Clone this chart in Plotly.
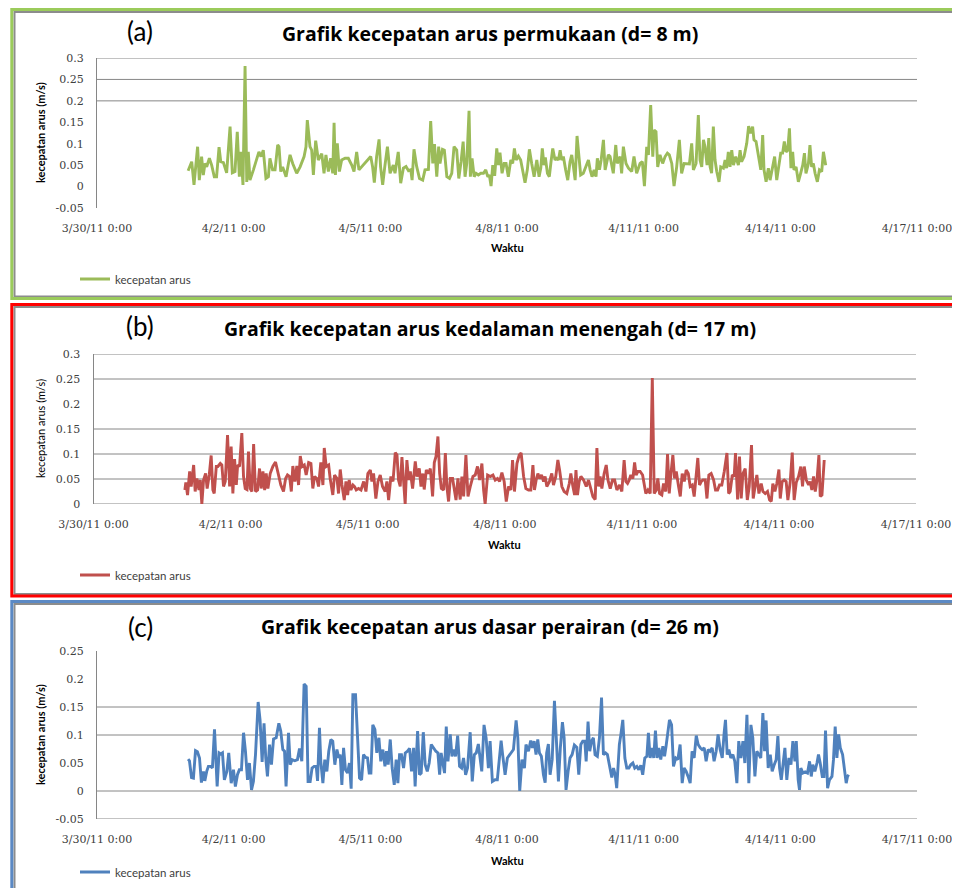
import pandas as pd
import plotly.graph_objects as go

# ---------------- data ----------------
START = "2011-04-01 00:00"

# panel (a) surface current, hours after START and speed (m/s)
hours_a = [
    0.0, 1.9, 3.1, 5.0, 5.9, 7.1, 8.0, 8.9, 9.8, 11.2,
    12.4, 13.8, 15.0, 16.3, 17.2, 18.6, 20.3, 22.1, 23.3, 24.7,
    25.9, 27.0, 27.9, 28.9, 30.0, 30.9, 31.7, 32.6, 34.4, 36.1,
    37.3, 38.4, 39.6, 41.0, 42.3, 43.1, 44.5, 45.8, 47.2, 47.9,
    48.8, 49.8, 51.6, 53.7, 55.1, 57.2, 59.0, 61.1, 62.1, 62.8,
    64.2, 65.1, 66.0, 67.2, 68.6, 70.4, 71.6, 72.6, 73.9, 75.1,
    76.2, 76.9, 77.6, 78.6, 79.7, 80.9, 82.7, 84.4, 86.2, 87.4,
    88.8, 90.0, 91.4, 93.2, 94.9, 96.2, 97.2, 98.1, 99.3, 100.6,
    101.4, 102.5, 103.6, 105.0, 106.4, 108.1, 109.0, 110.7,
    112.0, 113.4, 114.8, 116.1, 117.3, 118.0, 119.0, 120.4, 121.9, 123.6,
    124.8, 126.6, 127.8, 128.9, 129.8, 131.0, 132.0, 132.7, 134.0, 135.0,
    136.3, 137.7, 138.9, 140.1, 141.5, 142.6, 143.8, 144.9, 145.9, 146.8,
    148.0, 148.7, 149.6, 150.7, 151.7, 152.9, 154.2, 155.6, 156.8, 157.9,
    158.7, 159.6, 160.5, 161.5, 162.6, 163.5, 164.3, 165.4, 166.5, 167.5,
    168.7, 170.0, 171.0, 171.9, 172.8, 174.0, 175.2, 176.3, 177.5, 178.7,
    179.8, 181.0, 182.3, 183.7, 184.9, 185.8, 186.6, 187.5, 188.2, 189.3,
    190.3, 191.2, 192.1, 193.3, 194.2, 195.1, 196.0, 196.8, 197.7, 198.9,
    200.0, 201.2, 202.1, 203.0, 203.9, 204.9, 205.8, 206.8, 208.2, 210.0,
    210.9, 211.8, 212.8, 213.9, 214.9, 215.6, 216.7, 217.6, 218.8, 219.7,
    220.5, 221.4,
    222.3, 224.0, 225.3, 226.1, 227.6, 228.4, 229.3, 230.7, 232.0, 233.7,
    234.9, 236.3, 238.1, 239.3, 240.4, 241.6, 242.5, 243.7, 244.8, 245.5,
    246.5, 247.4, 248.6, 250.0, 251.3, 252.5, 253.5, 254.8, 256.0, 257.4,
    258.8, 260.0, 261.3, 262.7, 264.1, 265.3, 266.2, 267.6, 268.8, 269.7,
    270.6, 271.5, 272.3, 273.4, 274.3, 275.0, 275.8, 276.7, 277.6, 278.5,
    279.7, 280.6, 282.0, 282.9, 283.7, 284.6, 285.5, 286.4, 287.3, 288.5,
    289.9, 290.8, 291.6, 292.9, 294.3, 295.3, 296.4, 297.4, 298.1, 299.2,
    300.4, 301.7, 302.7, 303.4, 304.5, 305.7, 306.6, 308.0, 309.0, 310.1,
    311.0, 312.2, 313.2, 314.1, 315.0, 315.9, 316.8, 317.6, 318.5, 319.2,
    320.3, 321.5, 322.7, 323.8, 324.7, 325.5, 326.8, 327.6, 328.5, 329.4,
    330.3, 331.5, 332.6, 333.8, 334.7, 335.9,
]
speed_a = [
    0.037, 0.058, 0.004, 0.093, 0.015, 0.070, 0.027, 0.054, 0.046, 0.066,
    0.050, 0.023, 0.023, 0.092, 0.058, 0.056, 0.032, 0.140, 0.032, 0.035,
    0.128, 0.023, 0.081, 0.004, 0.281, 0.011, 0.081, 0.015, 0.039, 0.062,
    0.081, 0.070, 0.085, 0.019, 0.023, 0.066, 0.039, 0.039, 0.097, 0.093,
    0.035, 0.046, 0.023, 0.074, 0.054, 0.031, 0.046, 0.070, 0.093, 0.155,
    0.093, 0.085, 0.027, 0.107, 0.062, 0.077, 0.031, 0.074, 0.035, 0.066,
    0.031, 0.149, 0.027, 0.101, 0.035, 0.062, 0.066, 0.066, 0.050, 0.035,
    0.081, 0.039, 0.046, 0.054, 0.062, 0.070, 0.046, 0.009, 0.070, 0.110,
    0.046, 0.004, 0.046, 0.093, 0.031, 0.050, 0.031, 0.081,
    0.008, 0.043, 0.047, 0.037, 0.039, 0.015, 0.087, 0.047, 0.019, 0.015,
    0.039, 0.040, 0.153, 0.054, 0.099, 0.023, 0.093, 0.054, 0.087, 0.085,
    0.023, 0.019, 0.031, 0.093, 0.085, 0.019, 0.058, 0.105, 0.023, 0.054,
    0.177, 0.023, 0.066, 0.023, 0.031, 0.027, 0.031, 0.031, 0.039, 0.023,
    0.027, 0.001, 0.050, 0.025, 0.089, 0.050, 0.079, 0.031, 0.054, 0.054,
    0.023, 0.062, 0.054, 0.089, 0.062, 0.071, 0.062, 0.039, 0.009, 0.039,
    0.087, 0.054, 0.023, 0.062, 0.023, 0.043, 0.089, 0.050, 0.068, 0.031,
    0.023, 0.058, 0.089, 0.062, 0.066, 0.062, 0.085, 0.062, 0.070, 0.039,
    0.015, 0.058, 0.074, 0.046, 0.015, 0.118, 0.078, 0.027, 0.031, 0.054,
    0.062, 0.039, 0.023, 0.039, 0.023, 0.066, 0.039, 0.062, 0.109, 0.039,
    0.054, 0.074,
    0.070, 0.031, 0.097, 0.054, 0.070, 0.031, 0.093, 0.054, 0.043, 0.035,
    0.070, 0.031, 0.054, 0.058, 0.001, 0.093, 0.074, 0.190, 0.070, 0.132,
    0.128, 0.046, 0.074, 0.054, 0.070, 0.078, 0.074, 0.054, 0.001, 0.046,
    0.109, 0.031, 0.054, 0.054, 0.053, 0.101, 0.039, 0.054, 0.167, 0.062,
    0.046, 0.109, 0.093, 0.050, 0.113, 0.046, 0.031, 0.140, 0.062, 0.035,
    0.011, 0.046, 0.043, 0.062, 0.043, 0.081, 0.046, 0.085, 0.050, 0.070,
    0.050, 0.085, 0.058, 0.070, 0.101, 0.141, 0.124, 0.140, 0.109, 0.105,
    0.070, 0.039, 0.120, 0.039, 0.011, 0.043, 0.015, 0.046, 0.070, 0.015,
    0.039, 0.078, 0.078, 0.105, 0.081, 0.085, 0.136, 0.043, 0.081, 0.039,
    0.046, 0.011, 0.031, 0.050, 0.078, 0.031, 0.054, 0.097, 0.046, 0.054,
    0.031, 0.011, 0.039, 0.035, 0.081, 0.050,
]

# panel (b) mid-depth current
hours_b = [
    0.0, 0.5, 1.4, 2.5, 3.3, 4.6, 5.4, 6.3, 7.4, 8.1,
    8.9, 9.8, 10.9, 11.7, 12.8, 13.8, 14.7, 15.4, 16.5, 17.3,
    18.6, 19.4, 20.3, 21.2, 22.4, 23.5, 24.3, 25.2, 26.1, 27.0,
    27.7, 28.7, 29.9, 30.8, 31.7, 32.6, 33.4, 34.3, 35.2, 36.1,
    37.1, 38.2, 39.2, 40.1, 41.0, 41.9, 42.7, 43.6, 44.8, 46.2,
    47.6, 49.2, 50.4, 51.8, 52.9, 53.9, 55.0, 55.9, 56.7, 57.8,
    58.8, 59.7, 60.6, 61.6, 62.7, 63.7, 65.0, 66.2, 67.2, 68.1,
    69.3, 70.2, 71.4, 72.5, 73.2, 74.2, 75.5, 76.3, 77.7, 78.6,
    79.9, 80.7, 81.6, 82.5, 83.7, 84.6, 85.5, 86.3, 87.2, 88.3,
    89.1, 90.0, 91.2, 92.5, 93.9, 95.1, 96.1, 97.4, 98.2, 99.1,
    100.3, 101.4, 102.6, 103.8, 105.2, 106.1, 107.0, 108.2, 109.3, 110.5,
    111.4, 112.2, 113.1, 114.0, 114.9, 115.7, 116.6, 117.5, 118.4, 119.6,
    121.0, 121.9, 123.1, 124.0, 125.0, 125.7, 126.8, 128.0, 128.9, 130.1,
    131.0, 131.9, 132.9, 133.8, 134.7, 135.9, 136.8, 137.6, 138.5, 139.4,
    140.6, 141.5, 142.4, 143.4, 144.6, 145.5, 146.4, 147.6, 148.7, 149.9,
    151.3, 152.5, 153.7, 154.8,
    156.0, 156.9, 157.7, 159.0, 160.4, 161.8, 163.0, 164.2, 165.3, 166.5,
    167.7, 168.8, 170.0, 171.2, 172.1, 173.1, 174.4, 175.6, 176.6, 177.9,
    179.1, 180.5, 181.7, 182.8, 183.6, 184.5, 185.4, 186.3, 187.3, 188.4,
    189.2, 190.1, 191.5, 192.7, 193.6, 194.8, 195.9, 196.8, 198.0, 199.2,
    200.6, 201.9, 202.7, 203.8, 204.7, 205.4, 206.2, 207.1, 208.0, 209.4,
    210.8, 212.0, 213.2, 214.3, 215.5, 216.4, 217.3, 218.1, 219.0, 220.2,
    221.3, 222.2, 223.4, 224.6, 225.7, 226.9, 228.3, 229.5, 230.7, 231.6,
    232.5, 233.4, 234.2, 235.3, 236.2, 237.0, 237.9, 239.1, 240.4, 241.2,
    242.1, 243.2, 244.4, 245.5, 246.5, 247.6, 248.4, 249.3, 250.5, 251.4,
    252.6, 253.5, 254.4, 255.3, 256.3, 257.2, 258.1, 259.3, 260.2, 261.2,
    262.3, 263.3, 264.4, 265.4, 266.5, 267.5, 268.6, 269.4, 270.3, 271.2,
    272.1, 273.3, 274.2, 275.2, 276.4, 277.7, 278.7, 279.8, 280.8, 282.0,
    283.3, 284.7, 285.6, 286.4, 287.5, 288.5, 289.2, 290.3, 291.3, 292.2,
    293.1, 294.3, 295.4, 296.4, 297.6, 298.5, 299.6, 300.4, 301.5, 302.7,
    303.6, 304.8, 306.0, 307.1, 308.0, 308.8, 309.9, 310.9, 312.0, 312.7,
    313.7, 314.8, 315.8, 316.7, 317.9, 319.0, 320.0, 321.1, 322.3, 323.5,
    324.4, 325.3, 326.4, 327.6, 328.4, 329.3, 330.2, 331.1, 332.0, 333.0,
    333.7, 334.6, 335.8,
]
speed_b = [
    0.028, 0.043, 0.018, 0.065, 0.035, 0.078, 0.025, 0.051, 0.028, 0.048,
    0.000, 0.048, 0.061, 0.031, 0.058, 0.097, 0.028, 0.021, 0.075, 0.075,
    0.081, 0.078, 0.035, 0.045, 0.138, 0.035, 0.115, 0.021, 0.090, 0.038,
    0.078, 0.075, 0.142, 0.055, 0.031, 0.029, 0.105, 0.031, 0.025, 0.120,
    0.025, 0.028, 0.071, 0.031, 0.065, 0.028, 0.061, 0.031, 0.061, 0.075,
    0.084, 0.055, 0.038, 0.025, 0.051, 0.058, 0.055, 0.025, 0.076, 0.045,
    0.076, 0.038, 0.096, 0.075, 0.078, 0.058, 0.083, 0.081, 0.031, 0.055,
    0.051, 0.035, 0.083, 0.038, 0.112, 0.075, 0.078, 0.051, 0.018, 0.058,
    0.051, 0.021, 0.069, 0.038, 0.008, 0.045, 0.018, 0.048, 0.028, 0.038,
    0.035, 0.028, 0.031, 0.028, 0.045, 0.025, 0.061, 0.068, 0.045, 0.061,
    0.011, 0.045, 0.058, 0.035, 0.025, 0.045, 0.008, 0.055, 0.045, 0.103,
    0.098, 0.048, 0.035, 0.094, 0.035, 0.000, 0.088, 0.048, 0.065, 0.031,
    0.085, 0.055, 0.071, 0.035, 0.061, 0.029, 0.068, 0.061, 0.071, 0.015,
    0.083, 0.095, 0.135, 0.061, 0.031, 0.028, 0.102, 0.035, 0.005, 0.051,
    0.051, 0.028, 0.008, 0.051, 0.009, 0.055, 0.015, 0.098, 0.015, 0.035,
    0.055, 0.058, 0.075, 0.048,
    0.081, 0.028, 0.000, 0.058, 0.055, 0.058, 0.048, 0.051, 0.045, 0.063,
    0.045, 0.005, 0.035, 0.028, 0.088, 0.025, 0.081, 0.098, 0.102, 0.055,
    0.031, 0.028, 0.028, 0.078, 0.028, 0.048, 0.061, 0.051, 0.058, 0.045,
    0.055, 0.035, 0.045, 0.061, 0.038, 0.055, 0.088, 0.068, 0.035, 0.025,
    0.021, 0.041, 0.061, 0.035, 0.018, 0.068, 0.018, 0.045, 0.055, 0.048,
    0.035, 0.048, 0.031, 0.015, 0.009, 0.112, 0.035, 0.055, 0.031, 0.061,
    0.078, 0.048, 0.031, 0.048, 0.048, 0.028, 0.038, 0.025, 0.088, 0.045,
    0.041, 0.048, 0.058, 0.051, 0.083, 0.058, 0.065, 0.065, 0.058, 0.038,
    0.021, 0.028, 0.021, 0.252, 0.021, 0.028, 0.051, 0.021, 0.018, 0.041,
    0.025, 0.100, 0.021, 0.061, 0.098, 0.051, 0.065, 0.035, 0.015, 0.061,
    0.045, 0.068, 0.061, 0.035, 0.038, 0.015, 0.061, 0.092, 0.038, 0.045,
    0.048, 0.048, 0.011, 0.058, 0.061, 0.048, 0.028, 0.028, 0.038, 0.038,
    0.065, 0.102, 0.021, 0.025, 0.058, 0.055, 0.102, 0.009, 0.095, 0.011,
    0.061, 0.071, 0.008, 0.035, 0.118, 0.011, 0.038, 0.058, 0.021, 0.041,
    0.025, 0.021, 0.025, 0.008, 0.005, 0.041, 0.025, 0.041, 0.069, 0.011,
    0.045, 0.048, 0.045, 0.008, 0.043, 0.103, 0.008, 0.043, 0.055, 0.075,
    0.035, 0.075, 0.048, 0.038, 0.045, 0.028, 0.055, 0.025, 0.048, 0.098,
    0.015, 0.018, 0.088,
]

# panel (c) near-bottom current
hours_c = [
    0.0, 0.7, 1.8, 2.8, 3.9, 4.9, 6.0, 7.0, 8.1, 8.8,
    9.8, 10.7, 11.9, 12.8, 13.9, 15.3, 16.3, 17.2, 18.1, 19.1,
    20.4, 21.4, 22.7, 23.9, 24.9, 26.0, 27.0, 28.1, 29.2, 30.2,
    31.3, 32.3, 33.4, 34.4, 35.5, 36.9, 37.9, 39.0, 40.0, 40.9,
    41.8, 42.9, 43.9, 45.0, 46.4, 47.8, 48.8, 49.9, 50.8, 51.6,
    52.9, 53.8, 54.8, 56.2, 57.6, 58.7, 59.9, 61.1, 62.2, 63.2,
    64.3, 65.3, 66.4, 67.5, 68.2, 69.2, 69.9, 71.0, 72.0, 73.1,
    74.1, 75.2, 76.2, 77.3, 78.4, 79.4, 80.1, 81.0, 81.9, 82.9,
    84.0, 85.0, 85.9, 86.8, 88.2, 89.3, 90.3, 91.4, 92.4, 93.5,
    94.5, 95.4, 96.3, 97.3, 98.4, 99.4, 100.5, 101.5, 102.6, 103.7,
    104.5, 105.4, 106.5, 107.5, 108.6, 109.6, 110.5, 111.4, 112.4, 113.5,
    114.4, 115.6, 116.7, 117.7, 118.8, 119.6, 120.9, 121.9, 122.8, 123.9,
    124.9, 126.0, 127.0, 128.1, 129.3, 130.5, 131.6, 132.5, 133.3, 134.2,
    135.1, 136.0, 136.9, 138.1, 139.0, 139.9, 140.9, 142.0, 143.0, 144.1,
    145.1, 146.2, 147.2, 148.6, 149.7, 150.8, 151.8, 152.9,
    154.7, 155.9, 157.0, 158.2, 159.1, 160.3, 161.7, 162.9, 164.0, 164.9,
    165.7, 167.0, 168.2, 169.6, 171.4, 172.8, 173.7, 174.7, 175.9, 177.2,
    178.0, 179.3, 180.5, 181.4, 182.3, 183.3, 184.2, 185.1, 186.1, 187.2,
    188.1, 188.9, 189.8, 190.7, 191.8, 193.0, 194.0, 195.1, 196.1, 197.2,
    198.1, 199.1, 200.2, 201.2, 202.3, 203.5, 204.8, 205.8, 206.9, 207.9,
    209.0, 209.7, 210.7, 211.6, 212.5, 213.5, 214.4, 215.6, 216.7, 217.8,
    218.8, 219.9, 220.9, 222.3, 223.2, 224.1, 225.0, 225.8, 227.2, 228.0,
    229.0, 230.1, 231.1, 232.2, 233.2, 234.3, 235.3, 236.4, 237.4, 238.5,
    239.5, 240.6, 241.7, 242.5, 243.4, 244.5, 245.3, 246.2, 247.1, 248.0,
    249.0, 250.1, 251.0, 251.8, 252.7, 253.6, 254.7, 255.7, 256.9, 258.0,
    259.2, 260.3, 261.3, 262.4, 263.4, 264.5, 265.5, 266.6, 267.7, 268.7,
    269.8, 270.8, 271.9, 272.9, 274.0, 275.0, 276.1, 277.1, 278.2, 279.2,
    280.3, 281.4, 282.4, 283.1, 284.0, 284.9, 285.9, 287.0, 288.0, 289.1,
    290.1, 291.2, 292.3, 293.3, 294.4, 295.4, 296.5, 297.5, 298.6, 299.6,
    300.7, 301.7, 302.8, 303.7, 304.5, 305.6, 306.7, 307.7, 308.8, 309.8,
    310.7, 311.6, 312.5, 313.3, 314.4, 315.4, 316.5, 317.6, 318.6, 319.7,
    320.4, 321.4, 322.1, 322.8, 323.9, 325.1, 326.3, 327.4, 328.3, 329.1,
    330.2, 331.3, 332.1, 333.0, 334.1, 335.0, 335.8, 336.9, 337.9, 339.2,
    340.0, 340.9, 341.8, 342.7, 343.6, 344.8, 345.7, 346.7, 347.4, 348.0,
]
speed_c = [
    0.057, 0.054, 0.024, 0.023, 0.072, 0.070, 0.059, 0.015, 0.035, 0.018,
    0.035, 0.044, 0.044, 0.041, 0.110, 0.008, 0.068, 0.066, 0.068, 0.020,
    0.035, 0.068, 0.014, 0.038, 0.008, 0.029, 0.038, 0.038, 0.104, 0.071,
    0.020, 0.050, 0.002, 0.017, 0.065, 0.159, 0.127, 0.052, 0.121, 0.059,
    0.026, 0.083, 0.047, 0.093, 0.095, 0.121, 0.107, 0.074, 0.071, 0.008,
    0.104, 0.047, 0.056, 0.054, 0.056, 0.076, 0.053, 0.191, 0.187, 0.017,
    0.017, 0.041, 0.044, 0.044, 0.018, 0.113, 0.053, 0.014, 0.056, 0.035,
    0.071, 0.092, 0.089, 0.047, 0.074, 0.059, 0.065, 0.011, 0.077, 0.038,
    0.032, 0.050, 0.004, 0.172, 0.172, 0.101, 0.023, 0.020, 0.065, 0.060,
    0.059, 0.032, 0.032, 0.118, 0.110, 0.068, 0.095, 0.053, 0.074, 0.044,
    0.071, 0.047, 0.092, 0.041, 0.011, 0.056, 0.014, 0.065, 0.065, 0.041,
    0.068, 0.071, 0.076, 0.035, 0.077, 0.008, 0.107, 0.029, 0.032, 0.105,
    0.047, 0.035, 0.050, 0.083, 0.077, 0.071, 0.068, 0.029, 0.068, 0.050,
    0.032, 0.115, 0.053, 0.101, 0.062, 0.074, 0.062, 0.099, 0.044, 0.041,
    0.059, 0.029, 0.041, 0.105, 0.017, 0.065, 0.068, 0.084,
    0.035, 0.118, 0.095, 0.041, 0.089, 0.017, 0.020, 0.020, 0.053, 0.090,
    0.065, 0.029, 0.059, 0.065, 0.074, 0.126, 0.095, 0.000, 0.056, 0.041,
    0.083, 0.071, 0.090, 0.077, 0.089, 0.065, 0.092, 0.068, 0.062, 0.029,
    0.015, 0.068, 0.084, 0.029, 0.056, 0.161, 0.083, 0.017, 0.077, 0.123,
    0.095, 0.002, 0.035, 0.059, 0.065, 0.082, 0.078, 0.029, 0.083, 0.089,
    0.089, 0.053, 0.124, 0.071, 0.089, 0.095, 0.065, 0.062, 0.095, 0.167,
    0.065, 0.068, 0.065, 0.041, 0.024, 0.041, 0.029, 0.005, 0.083, 0.101,
    0.127, 0.059, 0.041, 0.041, 0.047, 0.050, 0.041, 0.044, 0.038, 0.046,
    0.029, 0.059, 0.062, 0.104, 0.059, 0.077, 0.059, 0.108, 0.059, 0.077,
    0.056, 0.080, 0.062, 0.080, 0.110, 0.127, 0.118, 0.044, 0.059, 0.056,
    0.083, 0.014, 0.041, 0.035, 0.026, 0.014, 0.071, 0.059, 0.099, 0.083,
    0.077, 0.074, 0.077, 0.053, 0.074, 0.071, 0.077, 0.053, 0.071, 0.101,
    0.074, 0.059, 0.104, 0.127, 0.065, 0.074, 0.059, 0.065, 0.053, 0.014,
    0.089, 0.059, 0.089, 0.050, 0.136, 0.014, 0.118, 0.095, 0.026, 0.071,
    0.065, 0.059, 0.139, 0.071, 0.126, 0.041, 0.065, 0.035, 0.047, 0.056,
    0.098, 0.041, 0.020, 0.047, 0.077, 0.020, 0.059, 0.047, 0.089, 0.053,
    0.089, 0.020, 0.002, 0.041, 0.032, 0.034, 0.032, 0.053, 0.026, 0.047,
    0.035, 0.050, 0.065, 0.050, 0.026, 0.026, 0.108, 0.005, 0.020, 0.026,
    0.056, 0.115, 0.059, 0.101, 0.077, 0.065, 0.038, 0.014, 0.026, 0.029,
]

# axes / labels
x_tick_dates = ["2011-03-30", "2011-04-02", "2011-04-05", "2011-04-08",
                "2011-04-11", "2011-04-14", "2011-04-17"]
x_tick_text = ["3/30/11 0:00", "4/2/11 0:00", "4/5/11 0:00", "4/8/11 0:00",
               "4/11/11 0:00", "4/14/11 0:00", "4/17/11 0:00"]
y_ticks_a = [-0.05, 0, 0.05, 0.1, 0.15, 0.2, 0.25, 0.3]
y_text_a = ["-0.05", "0", "0.05", "0.1", "0.15", "0.2", "0.25", "0.3"]
grid_a = [0.2, 0.25, 0.3]
y_ticks_b = [0, 0.05, 0.1, 0.15, 0.2, 0.25, 0.3]
y_text_b = ["0", "0.05", "0.1", "0.15", "0.2", "0.25", "0.3"]
grid_b = [0, 0.05, 0.1, 0.15, 0.25, 0.3]
y_ticks_c = [-0.05, 0, 0.05, 0.1, 0.15, 0.2, 0.25]
y_text_c = ["-0.05", "0", "0.05", "0.1", "0.15", "0.2", "0.25"]
grid_c = [-0.05, 0, 0.1, 0.15]

titles = ["Grafik kecepatan arus permukaan (d= 8 m)",
          "Grafik kecepatan arus kedalaman menengah (d= 17 m)",
          "Grafik kecepatan arus dasar perairan (d= 26 m)"]
panel_labels = ["(a)", "(b)", "(c)"]
series_name = "kecepatan arus"
x_title = "Waktu"
y_title = "kecepatan arus (m/s)"

# ---------------- figure ----------------
assert len(hours_a) == len(speed_a), (len(hours_a), len(speed_a))
assert len(hours_b) == len(speed_b), (len(hours_b), len(speed_b))
assert len(hours_c) == len(speed_c), (len(hours_c), len(speed_c))

# the page body adds an 8px margin; size the figure to fill the rest
OFF = 8
W, H = 960 - OFF, 888 - OFF


def px(x):
    return (x - OFF) / W


def py(y):
    return 1 - (y - OFF) / H


t0 = pd.Timestamp(START)


def times(h):
    return [t0 + pd.Timedelta(hours=v) for v in h]


LINE_COLORS = ["#9BBB59", "#C0504D", "#4F81BD"]
GRID = "#868686"
TICKFONT = dict(family="DejaVu Serif", size=11, color="#404040")

fig = go.Figure()
series = [(hours_a, speed_a), (hours_b, speed_b), (hours_c, speed_c)]
for i, (h, v) in enumerate(series):
    sfx = "" if i == 0 else str(i + 1)
    fig.add_trace(go.Scatter(
        x=times(h), y=v, mode="lines", name=series_name,
        line=dict(color=LINE_COLORS[i], width=2.9),
        xaxis="x" + sfx, yaxis="y" + sfx,
        legend="legend" + sfx,
    ))

# panel geometry in reference pixels
panels = [
    dict(x0=97, x1=917, top=58, bot=208, yr=[-0.05, 0.3],
         tv=y_ticks_a, tt=y_text_a, grid=grid_a),
    dict(x0=93.5, x1=916, top=354, bot=504, yr=[0, 0.3],
         tv=y_ticks_b, tt=y_text_b, grid=grid_b),
    dict(x0=97, x1=917, top=651, bot=819, yr=[-0.05, 0.25],
         tv=y_ticks_c, tt=y_text_c, grid=grid_c),
]

layout = dict(
    width=W, height=H, autosize=False,
    margin=dict(l=0, r=0, t=0, b=0, pad=0, autoexpand=False),
    paper_bgcolor="white", plot_bgcolor="white",
    showlegend=True,
)
shapes = []
for i, p in enumerate(panels):
    sfx = "" if i == 0 else str(i + 1)
    layout["xaxis" + sfx] = dict(
        type="date", range=["2011-03-30", "2011-04-17"],
        domain=[px(p["x0"]), px(p["x1"])], anchor="y" + sfx,
        tickvals=x_tick_dates, ticktext=x_tick_text,
        showgrid=False, zeroline=False, showline=False,
        ticks="outside", ticklen=10, tickcolor="rgba(0,0,0,0)",
        tickfont=TICKFONT, fixedrange=True, automargin=False,
    )
    layout["yaxis" + sfx] = dict(
        range=p["yr"], domain=[py(p["bot"]), py(p["top"])],
        anchor="x" + sfx, tickvals=p["tv"], ticktext=p["tt"],
        showgrid=False, zeroline=False, showline=True,
        linecolor=GRID, linewidth=1,
        ticks="outside", ticklen=10, tickcolor="rgba(0,0,0,0)",
        tickfont=TICKFONT, fixedrange=True, automargin=False,
    )
    for g in p["grid"]:
        shapes.append(dict(
            type="line", xref="x" + sfx + " domain", yref="y" + sfx,
            x0=0, x1=1, y0=g, y1=g, layer="below",
            line=dict(color=GRID, width=1),
        ))

# panel frames
frames = [
    dict(color="#9BCB5B", top=9.5, bot=298.5, gtop=12, gbot=296.5),
    dict(color="#FF0000", top=304.5, bot=596, gtop=307, gbot=594),
    dict(color="#5B89C4", top=601.5, bot=900, gtop=604, gbot=900),
]
for f in frames:
    shapes.append(dict(type="rect", xref="paper", yref="paper",
                       x0=px(14.5), x1=px(975), y0=py(f["gbot"]), y1=py(f["gtop"]),
                       line=dict(color="#8C8C8C", width=2)))
    shapes.append(dict(type="rect", xref="paper", yref="paper",
                       x0=px(11.8), x1=px(975), y0=py(f["bot"]), y1=py(f["top"]),
                       line=dict(color=f["color"], width=3)))
layout["shapes"] = shapes

# text
title_y = [33, 328, 626]
label_y = [31, 326, 627]
waktu_y = [248, 544, 860]
legend_y = [279, 575, 872]
ytitle_bold = [True, False, True]
ann = []
for i in range(3):
    p = panels[i]
    ann.append(dict(text=titles[i], x=px(490), y=py(title_y[i]),
                    xref="paper", yref="paper", showarrow=False,
                    xanchor="center", yanchor="middle",
                    font=dict(family="Open Sans", size=19.5, color="black", weight="bold")))
    ann.append(dict(text=panel_labels[i], x=px(140), y=py(label_y[i]),
                    xref="paper", yref="paper", showarrow=False,
                    xanchor="center", yanchor="middle",
                    font=dict(family="Lato", size=26, color="black")))
    ann.append(dict(text=x_title, x=px((p["x0"] + p["x1"]) / 2), y=py(waktu_y[i]),
                    xref="paper", yref="paper", showarrow=False,
                    xanchor="center", yanchor="middle",
                    font=dict(family="Lato", size=11, color="black", weight="bold")))
    ann.append(dict(text=y_title, x=px(40), y=py((p["top"] + p["bot"]) / 2),
                    xref="paper", yref="paper", showarrow=False, textangle=-90,
                    xanchor="center", yanchor="middle",
                    font=dict(family="Lato", size=11, color="black",
                              weight="bold" if ytitle_bold[i] else "normal")))
    sfx = "" if i == 0 else str(i + 1)
    layout["legend" + sfx] = dict(
        x=px(75), y=py(legend_y[i]), xanchor="left", yanchor="middle",
        xref="paper", yref="paper", bgcolor="rgba(0,0,0,0)",
        font=dict(family="Lato", size=11.5, color="#404040"),
        itemwidth=30,
    )
layout["annotations"] = ann

fig.update_layout(**layout)
fig.write_html("out.html")
